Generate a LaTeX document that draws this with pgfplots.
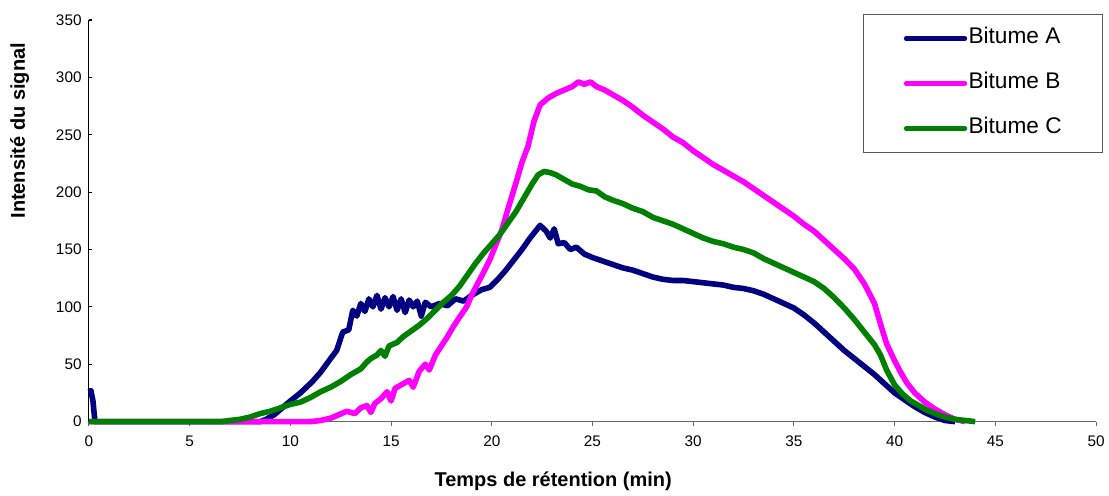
\documentclass[border=0pt]{standalone}
\usepackage{fontspec}
\setmainfont{Liberation Sans}
\usepackage{pgfplots}
\pgfplotsset{compat=1.18}
\definecolor{bitA}{RGB}{0,0,128}
\definecolor{bitB}{RGB}{255,0,255}
\definecolor{bitC}{RGB}{0,128,0}

\begin{document}
\begin{tikzpicture}
\begin{axis}[
  scale only axis,
  width=756pt, height=301.5pt,
  xmin=0, xmax=50, ymin=0, ymax=350,
  xtick={0,5,...,50}, ytick={0,50,...,350},
  axis x line=bottom, axis y line=left,
  x axis line style={-, draw=gray!80!black, line width=0.8pt},
  y axis line style={-, draw=black, line width=0.8pt},
  xtick style={draw=gray!80!black, line width=0.8pt},
  ytick style={draw=black, line width=0.8pt},
  x tick style={/pgfplots/major tick length=3.5pt},
  y tick style={/pgfplots/major tick length=2.5pt},
  xtick align=outside, ytick align=inside,
  tick label style={font=\fontsize{11.5}{13}\selectfont},
  /pgf/number format/assume math mode=true,
  xticklabel style={yshift=-3pt},
  yticklabel style={xshift=-2pt},
  xlabel={Temps de rétention (min)},
  ylabel={Intensité du signal},
  label style={font=\fontsize{15}{18}\bfseries\selectfont},
  xlabel style={at={(axis description cs:0.461,-0.149)}, anchor=center},
  ylabel style={at={(axis description cs:-0.0688,0.724)}, anchor=center},
  legend style={at={(rel axis cs:0.769,1.015)}, anchor=north west,
    draw=gray!70!black, line width=0.8pt,
    font=\fontsize{17}{20}\selectfont,
    inner xsep=30pt, inner ysep=10pt, row sep=17.75pt,
    nodes={inner xsep=1pt, inner ysep=0pt, text height=12pt, text depth=4pt}},
  legend cell align=left,
  legend image code/.code={\draw[#1, line width=3.5pt, line cap=round] (0pt,0pt) -- (44pt,0pt);},
  every axis plot/.append style={line width=4.2pt, line join=round},
  clip=false,
]
\addplot[bitA] coordinates {
(0,26)(0.1,27)(0.2,18)(0.3,0)(8.5,0)(8.8,2)(9.2,6)(9.6,12)(10,18)(10.5,25)
(11.1,35)(11.5,43)(12,55)(12.3,62)(12.6,78)(12.9,80)(13.1,97)(13.3,92)(13.5,103)
(13.7,96)(13.9,107)(14.1,100)(14.3,110)(14.5,98)(14.7,108)(14.9,100)(15.1,109)
(15.3,97)(15.5,107)(15.7,95)(15.9,106)(16.1,100)(16.3,105)(16.5,92)(16.7,104)
(17,100)(17.4,103)(17.8,101)(18.2,107)(18.6,105)(19,110)(19.5,115)(19.9,117)
(20.3,124)(20.7,132)(21.1,141)(21.5,150)(21.9,160)(22.4,171)(22.7,166)(22.9,160)
(23.1,168)(23.3,155)(23.6,156)(23.9,150)(24.2,152)(24.6,146)(25,143)(25.5,140)
(26,137)(26.5,134)(27,132)(27.5,129)(28,126)(28.5,124)(29,123)(29.5,123)(30,122)
(30.5,121)(31,120)(31.5,119)(32,117)(32.5,116)(33,114)(33.5,111)(34,107)(34.5,103)
(35,99)(35.5,93)(36,86)(36.5,78)(37,70)(37.5,62)(38,55)(38.5,48)(39,41)(39.5,33)
(40,25)(40.5,19)(41,13)(41.5,8)(42,4)(42.5,1)(43,0)
};
\addlegendentry{Bitume A}
\addplot[bitB] coordinates {
(0,0)(11,0)(11.5,1)(12,3)(12.4,6)(12.8,9)(13.2,7)(13.5,12)(13.8,14)(14,8)(14.2,16)
(14.5,20)(14.8,26)(15,18)(15.2,29)(15.6,33)(15.9,36)(16.1,30)(16.4,44)(16.7,50)
(16.9,45)(17.2,58)(17.5,66)(17.8,74)(18.1,83)(18.4,91)(18.75,100)(19.05,112)
(19.5,127)(19.9,141)(20.2,154)(20.5,167)(20.8,185)(21.2,208)(21.5,226)(21.8,240)
(22.1,262)(22.4,276)(22.8,282)(23.2,286)(23.6,289)(24,292)(24.3,296)(24.6,294)
(24.9,296)(25.2,292)(25.6,289)(26,285)(26.5,280)(27,274)(27.5,267)(28,261)
(28.5,255)(29,248)(29.5,243)(30,236)(30.5,230)(31,224)(31.5,219)(32,214)(32.5,209)
(33,203)(33.5,197)(34,191)(34.5,185)(35,179)(35.5,172)(36,166)(36.5,158)(37,150)
(37.5,142)(38,133)(38.5,120)(39,103)(39.3,85)(39.6,68)(40,53)(40.3,43)(40.6,34)
(41,25)(41.5,17)(42,11)(42.5,6)(43,2)(43.5,0)
};
\addlegendentry{Bitume B}
\addplot[bitC] coordinates {
(0,0)(6.6,0)(7,1)(7.5,2)(8,4)(8.5,7)(9,9)(9.5,12)(10,15)(10.5,17)(11,21)(11.5,26)
(12,30)(12.5,35)(13,41)(13.5,46)(13.8,52)(14,55)(14.3,58)(14.5,62)(14.7,57)(14.9,66)
(15.3,69)(15.6,74)(16,79)(16.4,84)(16.8,90)(17.2,97)(17.6,104)(18,110)(18.4,118)
(18.8,128)(19.2,138)(19.6,147)(20,155)(20.4,163)(20.8,173)(21.2,183)(21.6,195)
(22,207)(22.3,215)(22.6,218)(22.9,217)(23.2,215)(23.6,211)(24,207)(24.4,205)
(24.8,202)(25.2,201)(25.6,196)(26,193)(26.5,190)(27,186)(27.5,183)(28,178)(28.5,175)
(29,172)(29.5,168)(30,164)(30.5,160)(31,157)(31.5,155)(32,152)(32.5,150)(33,147)
(33.5,142)(34,138)(34.5,134)(35,130)(35.5,126)(36,122)(36.5,116)(37,108)(37.5,99)
(38,89)(38.5,78)(39,67)(39.3,58)(39.6,45)(40,32)(40.4,24)(40.8,18)(41.2,14)(41.6,10)
(42,7)(42.5,4)(43,2)(43.5,1)(44,0)
};
\addlegendentry{Bitume C}
\coordinate (O) at (rel axis cs:0,0);
\end{axis}
\path[use as bounding box] (O) ++(-66.75pt,-54pt) rectangle ++(831.75pt,370.5pt);
\end{tikzpicture}
\end{document}
